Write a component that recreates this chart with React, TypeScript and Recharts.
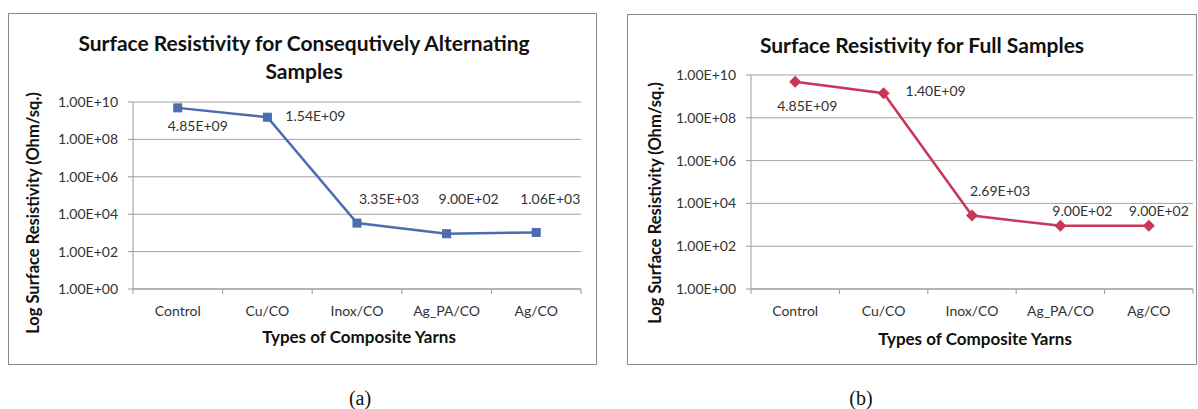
import React from 'react';
import { LineChart, Line, XAxis, YAxis, CartesianGrid, LabelList } from 'recharts';

const CATEGORIES = ['Control', 'Cu/CO', 'Inox/CO', 'Ag_PA/CO', 'Ag/CO'];
const ALTERNATING_VALUES = [4.85e9, 1.54e9, 3.35e3, 9.0e2, 1.06e3];
const FULL_VALUES = [4.85e9, 1.4e9, 2.69e3, 9.0e2, 9.0e2];
const Y_TICKS = [1, 1e2, 1e4, 1e6, 1e8, 1e10];

// where Excel happened to put each data label, relative to its point
const LEFT_LABEL_SHIFT = [[20, 18], [48, -2], [32, -25], [22, -35], [14, -34]];
const RIGHT_LABEL_SHIFT = [[12, 24], [52, -3], [28, -25], [22, -15], [10, -15]];

const FONT = 'Lato, "Open Sans", sans-serif';

const sci = (v: number) => {
  const [m, e] = v.toExponential(2).split('e');
  const n = parseInt(e, 10);
  return `${m}E${n < 0 ? '-' : '+'}${String(Math.abs(n)).padStart(2, '0')}`;
};

const SquareDot = (color: string) => (props: any) => {
  const { cx, cy, index } = props;
  if (cx == null || cy == null) return <g key={index} />;
  return <rect key={index} x={cx - 4} y={cy - 4} width={8} height={8} fill={color} stroke={color} />;
};

const DiamondDot = (color: string) => (props: any) => {
  const { cx, cy, index } = props;
  if (cx == null || cy == null) return <g key={index} />;
  return (
    <path
      key={index}
      d={`M${cx},${cy - 6}L${cx + 6},${cy}L${cx},${cy + 6}L${cx - 6},${cy}Z`}
      fill={color}
    />
  );
};

type PanelProps = {
  left: number;
  top: number;
  width: number;
  height: number;
  titleLines: string[];
  titleX: number;
  titleY: number;
  values: number[];
  color: string;
  marker: 'square' | 'diamond';
  margin: { top: number; right: number; bottom: number; left: number };
  yAxisWidth: number;
  labelShift: number[][];
  yTitlePos: [number, number];
  xTitlePos: [number, number];
};

const Panel: React.FC<PanelProps> = (p) => {
  const data = CATEGORIES.map((name, i) => ({ name, value: p.values[i] }));
  const plotWidth = p.width - p.margin.left - p.margin.right - p.yAxisWidth;
  const band = plotWidth / CATEGORIES.length;

  const XTick = (props: any) => {
    const { x, y, payload, index } = props;
    return (
      <g>
        <line x1={x - band / 2} x2={x - band / 2} y1={y} y2={y + 5} stroke="#999" />
        {index === CATEGORIES.length - 1 && (
          <line x1={x + band / 2} x2={x + band / 2} y1={y} y2={y + 5} stroke="#999" />
        )}
        <text x={x} y={y + 21} textAnchor="middle" dominantBaseline="central" fontSize={14} fill="#333">
          {payload.value}
        </text>
      </g>
    );
  };

  const DataLabel = (props: any) => {
    const { x, y, value, index } = props;
    const [dx, dy] = p.labelShift[index];
    return (
      <text x={x + dx} y={y + dy} textAnchor="middle" dominantBaseline="central" fontSize={14} fill="#333">
        {sci(value)}
      </text>
    );
  };

  return (
    <div
      style={{
        position: 'absolute',
        left: p.left,
        top: p.top,
        width: p.width,
        height: p.height,
        border: '1px solid #8a8a8a',
        boxSizing: 'border-box',
        background: '#fff',
      }}
    >
      <div style={{ position: 'absolute', left: -1, top: -1 }}>
        <LineChart width={p.width} height={p.height} data={data} margin={p.margin}>
          <CartesianGrid vertical={false} stroke="#a3a3a3" />
          <XAxis
            dataKey="name"
            tick={<XTick />}
            tickSize={0}
            tickMargin={0}
            tickLine={false}
            height={30}
            stroke="#999"
            interval={0}
            padding={{ left: band / 2, right: band / 2 }}
          />
          <YAxis
            scale="log"
            type="number"
            domain={[1, 1e10]}
            ticks={Y_TICKS}
            allowDataOverflow
            width={p.yAxisWidth}
            tickSize={5}
            tickMargin={10}
            tickFormatter={sci}
            tick={{ fontSize: 14, fill: '#333' }}
            stroke="#999"
          />
          <Line
            dataKey="value"
            stroke={p.color}
            strokeWidth={2.5}
            isAnimationActive={false}
            dot={p.marker === 'square' ? SquareDot(p.color) : DiamondDot(p.color)}
            activeDot={false}
          >
            <LabelList dataKey="value" content={<DataLabel />} />
          </Line>
        </LineChart>
      </div>
      {p.titleLines.map((t, i) => (
        <div
          key={t}
          style={{
            position: 'absolute',
            left: p.titleX,
            top: p.titleY + i * 28,
            transform: 'translate(-50%, -50%)',
            whiteSpace: 'nowrap',
            fontWeight: 700,
            fontSize: 21,
            color: '#111',
          }}
        >
          {t}
        </div>
      ))}
      <div
        style={{
          position: 'absolute',
          left: p.yTitlePos[0],
          top: p.yTitlePos[1],
          transform: 'translate(-50%, -50%) rotate(-90deg)',
          whiteSpace: 'nowrap',
          fontWeight: 700,
          fontSize: 16.5,
          color: '#111',
        }}
      >
        Log Surface Resistivity (Ohm/sq.)
      </div>
      <div
        style={{
          position: 'absolute',
          left: p.xTitlePos[0],
          top: p.xTitlePos[1],
          transform: 'translate(-50%, -50%)',
          whiteSpace: 'nowrap',
          fontWeight: 700,
          fontSize: 17,
          color: '#111',
        }}
      >
        Types of Composite Yarns
      </div>
    </div>
  );
};

const captionStyle: React.CSSProperties = {
  position: 'absolute',
  top: 398,
  transform: 'translate(-50%, -50%)',
  fontFamily: '"Liberation Serif", "Times New Roman", serif',
  fontSize: 20,
  color: '#111',
};

export default function App() {
  return (
    <div
      style={{
        position: 'absolute',
        left: 0,
        top: 0,
        width: 1198,
        height: 409,
        background: '#fff',
        fontFamily: FONT,
        overflow: 'hidden',
      }}
    >
      <Panel
        left={8}
        top={13}
        width={589}
        height={352}
        titleLines={['Surface Resistivity for Consequtively Alternating', 'Samples']}
        titleX={295}
        titleY={28}
        values={ALTERNATING_VALUES}
        color="#4a6cb0"
        marker="square"
        margin={{ top: 89, right: 16, bottom: 46, left: 0 }}
        yAxisWidth={125}
        labelShift={LEFT_LABEL_SHIFT}
        yTitlePos={[24, 199]}
        xTitlePos={[350, 322]}
      />
      <Panel
        left={627}
        top={14}
        width={570}
        height={351}
        titleLines={['Surface Resistivity for Full Samples']}
        titleX={294}
        titleY={29}
        values={FULL_VALUES}
        color="#c8365a"
        marker="diamond"
        margin={{ top: 61, right: 4, bottom: 46, left: 0 }}
        yAxisWidth={124}
        labelShift={RIGHT_LABEL_SHIFT}
        yTitlePos={[27, 188]}
        xTitlePos={[347, 323]}
      />
      <div style={{ ...captionStyle, left: 360 }}>(a)</div>
      <div style={{ ...captionStyle, left: 861 }}>(b)</div>
    </div>
  );
}
